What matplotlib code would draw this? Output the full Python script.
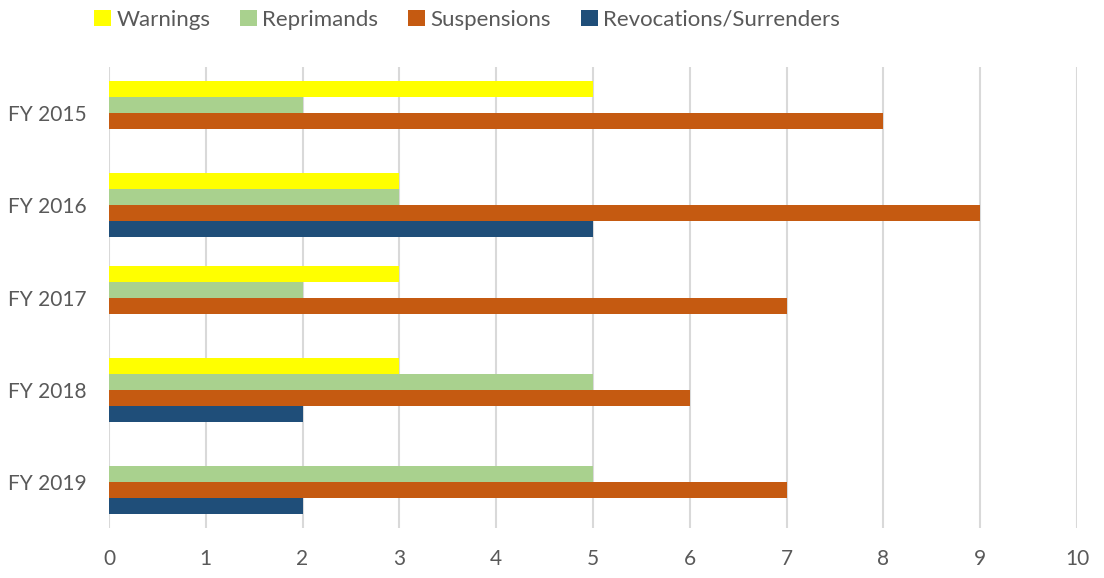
import numpy as np
import matplotlib.pyplot as plt

plt.rcParams['font.family'] = ['Lato', 'DejaVu Sans']

years = ["FY 2015", "FY 2016", "FY 2017", "FY 2018", "FY 2019"]
warnings = [5, 3, 3, 3, 0]
reprimands = [2, 3, 2, 5, 5]
suspensions = [8, 9, 7, 6, 7]
revocations = [0, 5, 0, 2, 2]

series = [
    ("Warnings", warnings, "#FFFF00"),
    ("Reprimands", reprimands, "#A9D18E"),
    ("Suspensions", suspensions, "#C55A11"),
    ("Revocations/Surrenders", revocations, "#1F4E79"),
]

fig = plt.figure(figsize=(11.04, 5.78), dpi=100)
ax = fig.add_axes([0.0987, 0.0865, 0.8768, 0.7975])

y = np.arange(len(years))
h = 0.1735
for i, (name, vals, col) in enumerate(series):
    ax.barh(y + (i - 1.5) * h, vals, height=h, color=col, label=name,
            linewidth=0, zorder=3)

ax.set_ylim(len(years) - 0.5, -0.5)
ax.set_xlim(0, 10)
ax.set_xticks(range(0, 11))
ax.set_yticks(y)
ax.set_yticklabels(years)
ax.grid(axis='x', color='#D9D9D9', linewidth=1.5, zorder=0)
for s in ax.spines.values():
    s.set_visible(False)
ax.tick_params(axis='both', length=0, labelsize=15, colors='#595959')
ax.tick_params(axis='x', pad=15)
ax.tick_params(axis='y', pad=16)

fig.legend(loc='upper left', bbox_to_anchor=(0.067, 1.018), ncol=4, frameon=False,
           fontsize=16, handlelength=0.75, handleheight=0.75, handletextpad=0.25,
           columnspacing=1.35, labelcolor='#595959')

fig.savefig("out.png", dpi=100)
